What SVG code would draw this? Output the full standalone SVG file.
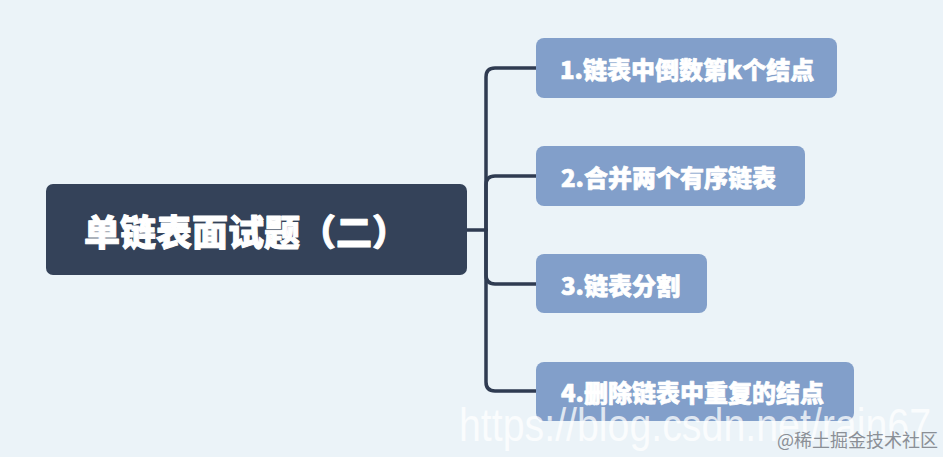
<svg xmlns="http://www.w3.org/2000/svg" width="943" height="457" viewBox="0 0 943 457">
<style>
.cjk{font-family:"Noto Sans CJK SC","Noto Sans",sans-serif;font-weight:900;fill:#ffffff;stroke:#ffffff;stroke-linejoin:round}
.child text{stroke-width:0.7}
.child rect{fill:#829fca}
.conn path{fill:none;stroke:#2f3b51;stroke-width:3.5;stroke-linecap:round}
</style>
<rect x="0" y="0" width="943" height="457" fill="#ebf3f8"/>
<g class="conn" id="connectors">
<path d="M467 230 H486"/>
<path d="M486 230 V77 Q486 68 495 68 H536"/>
<path d="M486 230 V185 Q486 176 495 176 H536"/>
<path d="M486 230 V275 Q486 284 495 284 H536"/>
<path d="M486 230 V382 Q486 391 495 391 H536"/>
</g>
<g id="root">
<rect x="46" y="184" width="421" height="91" rx="7" fill="#344259"/>
<text class="cjk" x="84" y="230" font-size="36" stroke-width="1" dominant-baseline="central">单链表面试题（二）</text>
</g>
<g id="n1" class="child">
<rect x="536" y="38" width="301" height="60" rx="8"/>
<text class="cjk" x="560" y="68" font-size="24" dominant-baseline="central">1.链表中倒数第k个结点</text>
</g>
<g id="n2" class="child">
<rect x="536" y="146" width="269" height="60" rx="8"/>
<text class="cjk" x="561" y="176" font-size="24" dominant-baseline="central">2.合并两个有序链表</text>
</g>
<g id="n3" class="child">
<rect x="536" y="254" width="171" height="59" rx="8"/>
<text class="cjk" x="561" y="284" font-size="24" dominant-baseline="central">3.链表分割</text>
</g>
<g id="n4" class="child">
<rect x="536" y="362" width="318" height="59" rx="8"/>
<text class="cjk" x="561" y="391" font-size="24" dominant-baseline="central">4.删除链表中重复的结点</text>
</g>
<text x="459" y="441" font-family="Liberation Sans, Arial, sans-serif" font-size="46" fill="#ffffff" fill-opacity="0.75" textLength="472" lengthAdjust="spacingAndGlyphs">https://blog.csdn.net/rain67</text>
<text x="777" y="447" font-family="Noto Sans CJK SC, sans-serif" font-size="18" fill="#8a8f96">@稀土掘金技术社区</text>
</svg>
